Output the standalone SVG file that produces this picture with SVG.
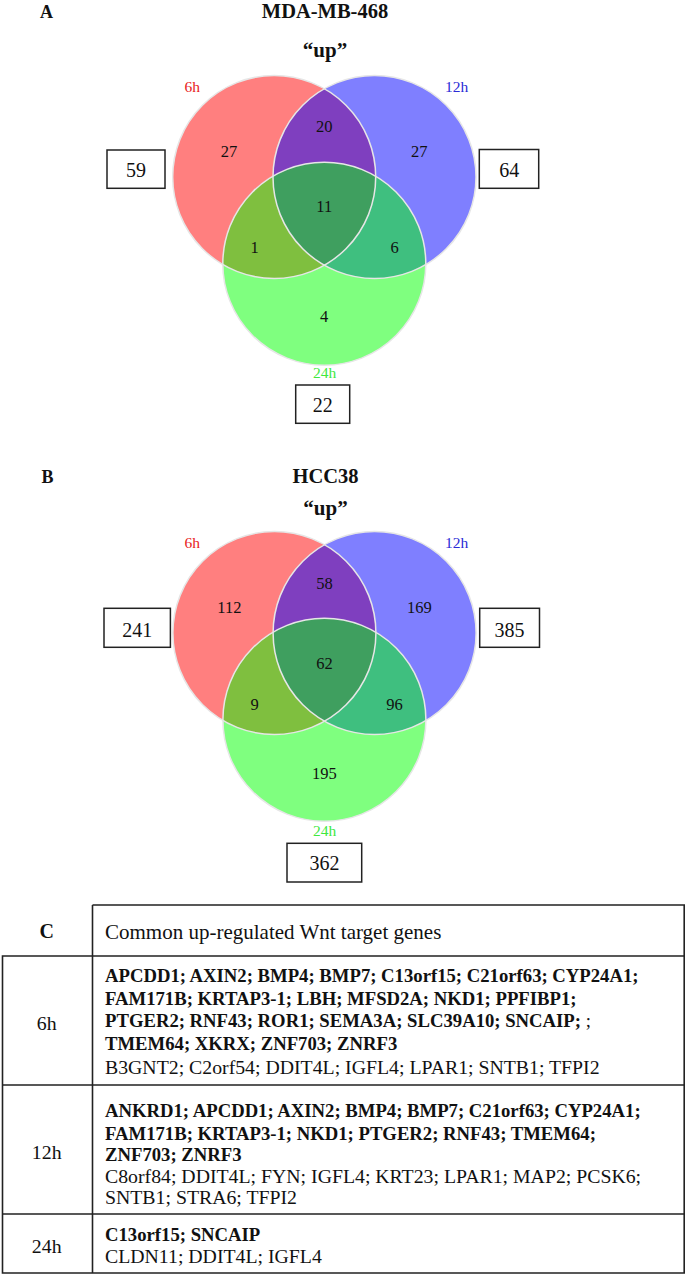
<svg xmlns="http://www.w3.org/2000/svg" width="685" height="1275" viewBox="0 0 685 1275">
<defs>
<style>
.t{font-family:"Liberation Serif","Times New Roman",serif;fill:#111}
.b{font-weight:bold}
.c{text-anchor:middle}
.n{font-size:16.5px}
.bx{font-size:20px}
.lab{font-size:15.5px}
.fr{fill:#ff0000;fill-opacity:0.5}
.fb{fill:#0000ff;fill-opacity:0.5}
.fg{fill:#00ff00;fill-opacity:0.5}
.edge{fill:none;stroke:#e6e6e6;stroke-width:1.5}
.box{fill:#fff;stroke:#222;stroke-width:1.5}
.tl{stroke:#222;stroke-width:1.6;fill:none}
.g{font-size:18.7px;font-weight:bold}
.r{font-size:19.8px}
</style>
</defs>

<!-- Panel A -->
<g id="panelA-title">
<text class="t b" x="40" y="18" font-size="18">A</text>
<text class="t b c" x="325" y="17.5" font-size="20.5">MDA-MB-468</text>
<text class="t b c" x="325" y="57" font-size="21">“up”</text>
</g>
<g id="vennA-sets">
<circle class="fr" cx="274.2" cy="177" r="101.5"/>
<circle class="fb" cx="374.5" cy="177" r="101.5"/>
<circle class="fg" cx="324.3" cy="263.7" r="101.5"/>
<circle class="edge" cx="274.2" cy="177" r="101.5"/>
<circle class="edge" cx="374.5" cy="177" r="101.5"/>
<circle class="edge" cx="324.3" cy="263.7" r="101.5"/>
</g>
<g id="vennA-labels">
<text class="t c lab" x="192.3" y="91.7" style="fill:#e82020">6h</text>
<text class="t c lab" x="456.7" y="91.7" style="fill:#2b2bd6">12h</text>
<text class="t c lab" x="324.7" y="378" style="fill:#3fe83f">24h</text>
<text class="t c n" x="229" y="157.3">27</text>
<text class="t c n" x="324.3" y="131.7">20</text>
<text class="t c n" x="419.2" y="157.3">27</text>
<text class="t c n" x="324.2" y="212.3">11</text>
<text class="t c n" x="254.5" y="253.3">1</text>
<text class="t c n" x="394.5" y="253.3">6</text>
<text class="t c n" x="324.2" y="322.3">4</text>
</g>
<g id="vennA-total-6h">
<rect class="box" x="107" y="150" width="58" height="38.3"/>
<text class="t c bx" x="136" y="176.7">59</text>
</g>
<g id="vennA-total-12h">
<rect class="box" x="479.3" y="149.5" width="59.4" height="38.8"/>
<text class="t c bx" x="509.2" y="177.3">64</text>
</g>
<g id="vennA-total-24h">
<rect class="box" x="295.7" y="385" width="54" height="38.3"/>
<text class="t c bx" x="322.7" y="411.8">22</text>
</g>

<!-- Panel B -->
<g id="panelB-title">
<text class="t b" x="41.5" y="482.7" font-size="18">B</text>
<text class="t b c" x="325.5" y="482.7" font-size="20.5">HCC38</text>
<text class="t b c" x="325.5" y="515" font-size="21">“up”</text>
</g>
<g id="vennB-sets">
<circle class="fr" cx="274.4" cy="633" r="101.5"/>
<circle class="fb" cx="374.6" cy="633" r="101.5"/>
<circle class="fg" cx="324.4" cy="719.8" r="101.5"/>
<circle class="edge" cx="274.4" cy="633" r="101.5"/>
<circle class="edge" cx="374.6" cy="633" r="101.5"/>
<circle class="edge" cx="324.4" cy="719.8" r="101.5"/>
</g>
<g id="vennB-labels">
<text class="t c lab" x="192.3" y="547.7" style="fill:#e82020">6h</text>
<text class="t c lab" x="456.7" y="547.7" style="fill:#2b2bd6">12h</text>
<text class="t c lab" x="324.7" y="835.5" style="fill:#3fe83f">24h</text>
<text class="t c n" x="229.4" y="613.3">112</text>
<text class="t c n" x="324.4" y="588.5">58</text>
<text class="t c n" x="419.4" y="613.3">169</text>
<text class="t c n" x="324.4" y="668.5">62</text>
<text class="t c n" x="254.5" y="709.5">9</text>
<text class="t c n" x="394.5" y="709.5">96</text>
<text class="t c n" x="324.4" y="778.8">195</text>
</g>
<g id="vennB-total-6h">
<rect class="box" x="104" y="608.3" width="66.4" height="39"/>
<text class="t c bx" x="137.2" y="636.5">241</text>
</g>
<g id="vennB-total-12h">
<rect class="box" x="479.7" y="608.3" width="59.8" height="39"/>
<text class="t c bx" x="509.6" y="636.5">385</text>
</g>
<g id="vennB-total-24h">
<rect class="box" x="287" y="843.3" width="74.7" height="38.7"/>
<text class="t c bx" x="324.4" y="870">362</text>
</g>

<!-- Panel C: table -->
<g id="tableC-grid">
<path class="tl" d="M92.5 905 H684.2 V1273 H2.5 V956 H684.2 M92.5 905 V1273 M2.5 1085 H684.2 M2.5 1214 H684.2"/>
</g>
<g id="tableC-header">
<text class="t b c" x="46.7" y="938" font-size="20">C</text>
<text class="t" x="105" y="939" font-size="21">Common up-regulated Wnt target genes</text>
</g>
<g id="tableC-row-6h">
<text class="t c r" x="46.7" y="1030">6h</text>
<text class="t g" x="105" y="982">APCDD1; AXIN2; BMP4; BMP7; C13orf15; C21orf63; CYP24A1;</text>
<text class="t g" x="105" y="1004.5">FAM171B; KRTAP3-1; LBH; MFSD2A; NKD1; PPFIBP1;</text>
<text class="t g" x="105" y="1027">PTGER2; RNF43; ROR1; SEMA3A; SLC39A10; SNCAIP;<tspan font-weight="normal"> ;</tspan></text>
<text class="t g" x="105" y="1049.5">TMEM64; XKRX; ZNF703; ZNRF3</text>
<text class="t r" x="105" y="1074">B3GNT2; C2orf54; DDIT4L; IGFL4; LPAR1; SNTB1; TFPI2</text>
</g>
<g id="tableC-row-12h">
<text class="t c r" x="46.7" y="1158.5">12h</text>
<text class="t g" x="105" y="1117">ANKRD1; APCDD1; AXIN2; BMP4; BMP7; C21orf63; CYP24A1;</text>
<text class="t g" x="105" y="1139.5">FAM171B; KRTAP3-1; NKD1; PTGER2; RNF43; TMEM64;</text>
<text class="t g" x="105" y="1161">ZNF703; ZNRF3</text>
<text class="t r" x="105" y="1182.5">C8orf84; DDIT4L; FYN; IGFL4; KRT23; LPAR1; MAP2; PCSK6;</text>
<text class="t r" x="105" y="1204">SNTB1; STRA6; TFPI2</text>
</g>
<g id="tableC-row-24h">
<text class="t c r" x="46.7" y="1253">24h</text>
<text class="t g" x="105" y="1241">C13orf15; SNCAIP</text>
<text class="t r" x="105" y="1263">CLDN11; DDIT4L; IGFL4</text>
</g>
</svg>
